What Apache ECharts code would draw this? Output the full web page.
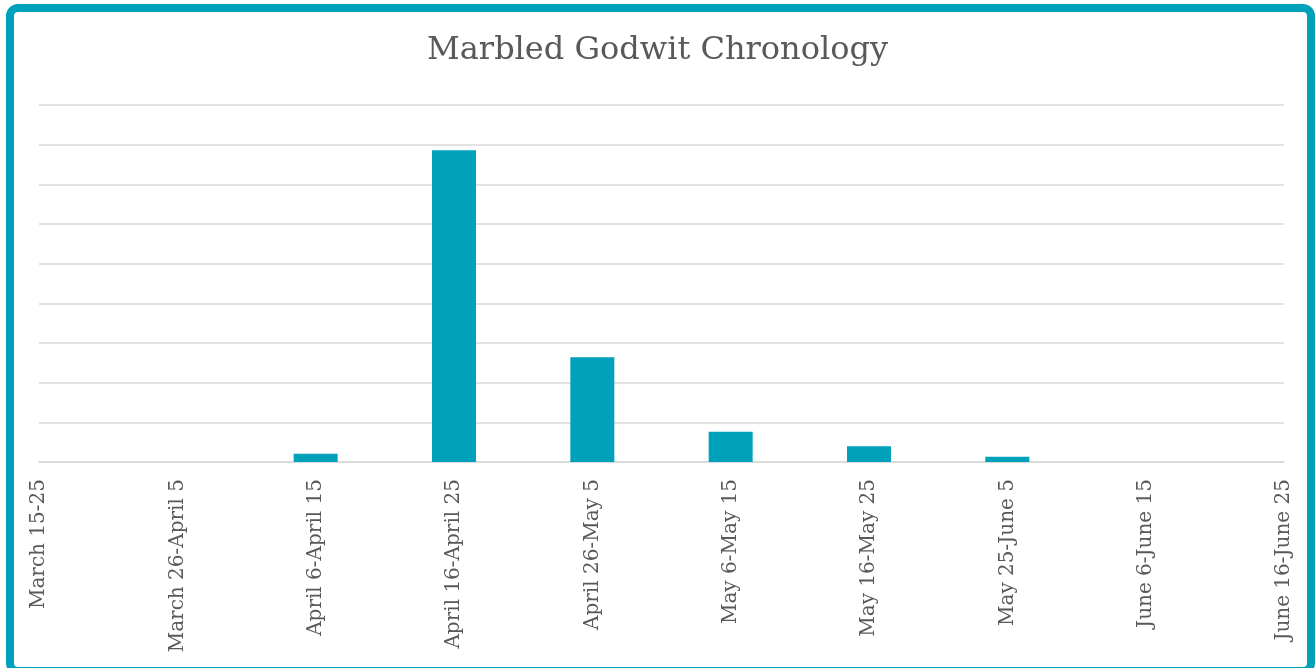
<!DOCTYPE html>
<html>
<head>
<meta charset="utf-8">
<title>Marbled Godwit Chronology</title>
<script src="https://cdn.jsdelivr.net/npm/echarts@6/dist/echarts.min.js"></script>
<style>
  html, body { margin: 0; padding: 0; background: #ffffff; }
  #chart { width: 1315px; height: 668px; }
</style>
</head>
<body>
<div id="chart"></div>
<script>
// Ten-day survey windows
const periods = [
  'March 15-25', 'March 26-April 5', 'April 6-April 15', 'April 16-April 25',
  'April 26-May 5', 'May 6-May 15', 'May 16-May 25', 'May 25-June 5',
  'June 6-June 15', 'June 16-June 25'
];
// Birds counted in each window
const counts = [0, 0, 2.1, 78.6, 26.4, 7.6, 4.0, 1.3, 0, 0];

const TEAL = '#00A1BA';
const INK = '#595959';
const FONT = '"DejaVu Serif", "Liberation Serif", serif';

const chart = echarts.init(document.getElementById('chart'), null, { renderer: 'canvas' });

chart.setOption({
  animation: false,
  backgroundColor: '#ffffff',
  title: {
    text: 'Marbled Godwit Chronology',
    left: 'center',
    top: 30,
    textStyle: { fontFamily: FONT, fontSize: 32, fontWeight: 'normal', color: INK }
  },
  grid: { left: 39, right: 31, top: 105, bottom: 206, containLabel: false },
  xAxis: {
    type: 'category',
    data: periods,
    boundaryGap: false,
    axisLine: { lineStyle: { color: '#D9D9D9', width: 1.5 } },
    axisTick: { show: false },
    splitLine: { show: false },
    axisLabel: {
      rotate: 90,
      interval: 0,
      margin: 17,
      fontFamily: FONT,
      fontSize: 20,
      color: INK
    }
  },
  yAxis: {
    type: 'value',
    min: 0,
    max: 90,
    interval: 10,
    axisLine: { show: false },
    axisTick: { show: false },
    axisLabel: { show: false },
    splitLine: { lineStyle: { color: '#D9D9D9', width: 1.5 } }
  },
  series: [{
    type: 'bar',
    data: counts,
    barWidth: 44,
    itemStyle: { color: TEAL }
  }],
  graphic: [{
    type: 'rect',
    silent: true,
    z: 100,
    shape: { x: 10, y: 8, width: 1301, height: 663, r: 8 },
    style: { fill: 'none', stroke: TEAL, lineWidth: 8 }
  }]
});
</script>
</body>
</html>
